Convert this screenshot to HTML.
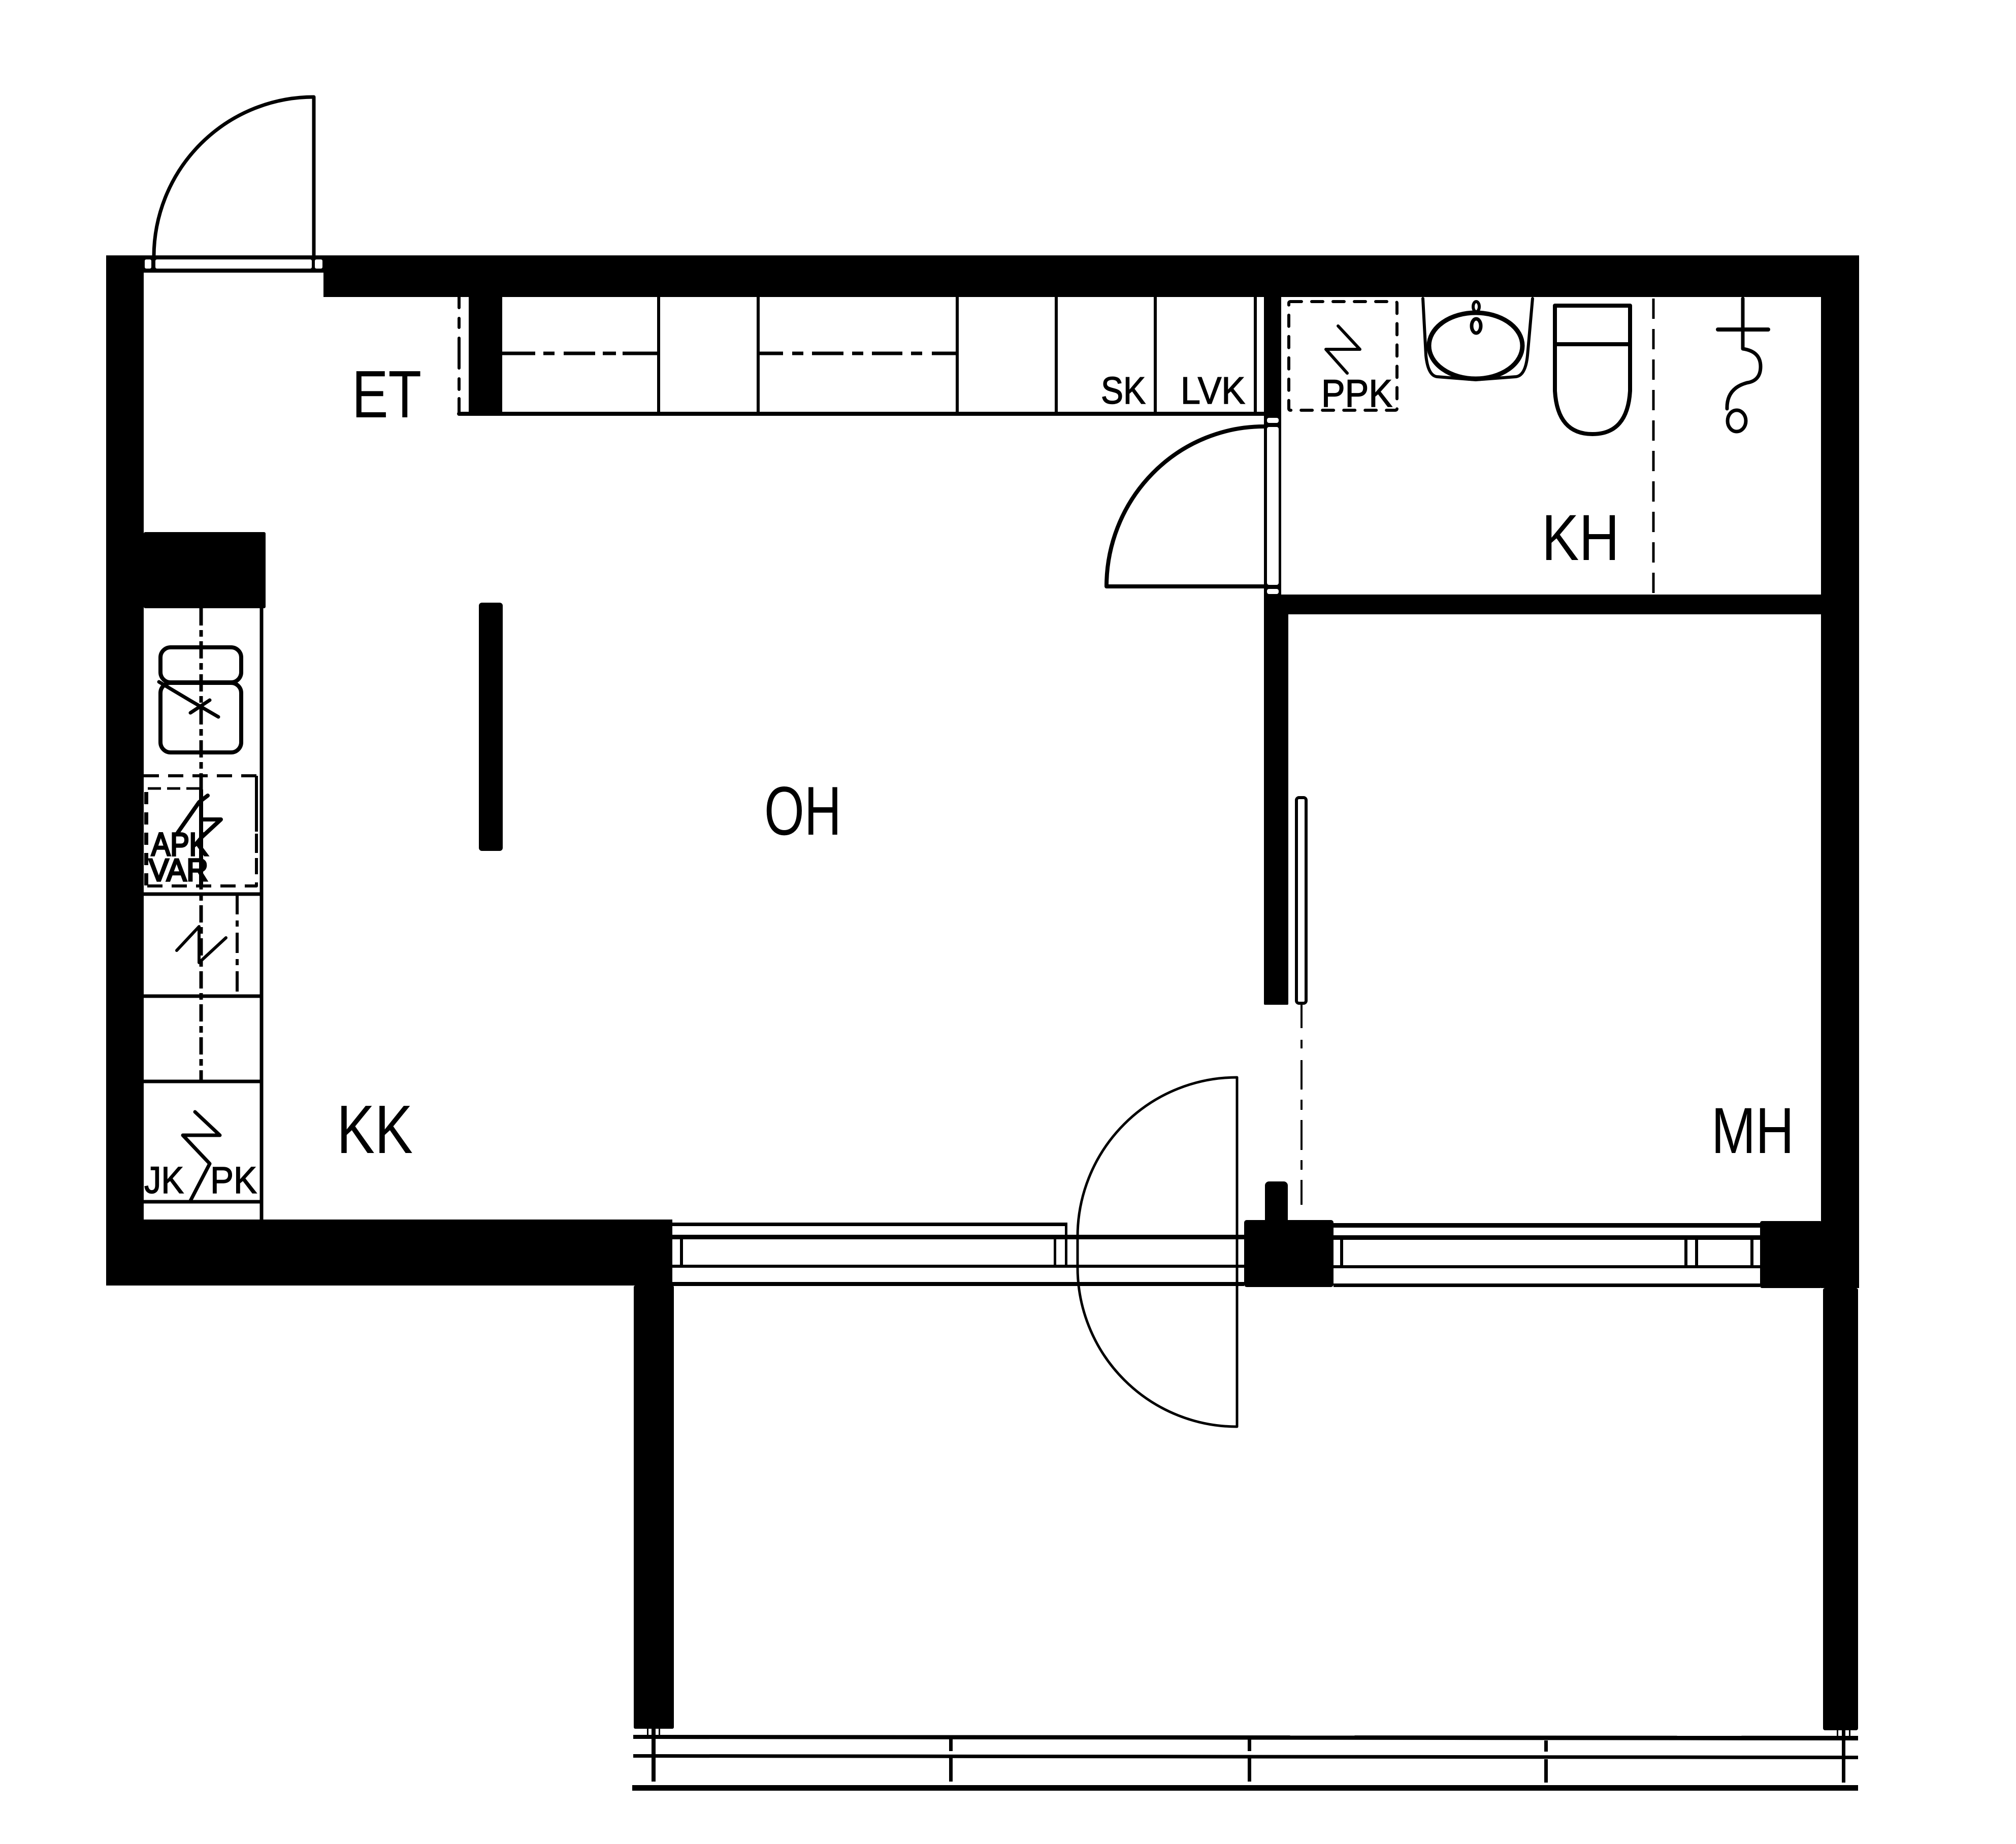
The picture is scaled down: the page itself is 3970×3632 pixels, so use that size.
<!DOCTYPE html>
<html><head><meta charset="utf-8"><title>Floor plan</title>
<style>html,body{margin:0;padding:0;background:#fff}svg{display:block}text{font-family:"Liberation Sans",sans-serif;fill:#000}</style>
</head><body>
<svg xmlns="http://www.w3.org/2000/svg" width="3970" height="3632" viewBox="0 0 3970 3632">
<rect width="3970" height="3632" fill="#fff"/>
<!-- solid walls -->
<g fill="#000">
<rect x="209" y="503" width="74" height="2029"/>
<rect x="283" y="1048" width="240" height="150" rx="3"/>
<rect x="637" y="503" width="3024" height="82"/>
<rect x="3586" y="503" width="75" height="2034"/>
<rect x="3590" y="2537" width="69" height="871" rx="4"/>
<rect x="209" y="2402" width="1115" height="130"/>
<rect x="1248" y="2532" width="79" height="873" rx="3"/>
<rect x="2489" y="1171" width="1097" height="39"/>
<rect x="2489" y="1171" width="48" height="808" rx="2"/>
<rect x="923" y="585" width="66" height="228"/>
<rect x="943" y="1187" width="47" height="489" rx="6"/>
<rect x="2491" y="2327" width="45" height="90" rx="8"/>
<rect x="2450" y="2403" width="176" height="132" rx="5"/>
<rect x="3466" y="2405" width="122" height="132" rx="4"/>
<rect x="2489" y="585" width="34" height="586"/>
<!-- entrance frame -->
<rect x="283" y="503" width="354" height="34"/>
</g>
<g fill="#fff">
<rect x="285" y="511" width="13" height="18" rx="3"/>
<rect x="306" y="511" width="308" height="18" rx="3"/>
<rect x="620" y="511" width="15" height="18" rx="3"/>
<rect x="2495" y="823" width="23" height="10" rx="4"/>
<rect x="2495" y="841" width="23" height="311" rx="4"/>
<rect x="2495" y="1160" width="23" height="10" rx="4"/>
</g>
<g fill="none" stroke="#000" stroke-linecap="round" stroke-linejoin="round">
<!-- entrance door -->
<path d="M303 505A315 315 0 0 1 618 191V505" stroke-width="7"/>
<!-- inner door to KH -->
<path d="M2489 840A310 315 0 0 0 2179 1155H2489" stroke-width="8"/>
<!-- cabinets -->
<path d="M904 815H2489" stroke-width="8"/>
<path d="M1297 585V815M1493 585V815M1885 585V815M2080 585V815M2275 585V815M2472 585V815" stroke-width="6" stroke-linecap="butt"/>
<path d="M989 696H1054M1070 696H1092M1110 696H1172M1187 696H1213M1226 696H1297" stroke-width="7" stroke-linecap="butt"/>
<path d="M1493 696H1542M1560 696H1582M1599 696H1661M1678 696H1700M1717 696H1777M1794 696H1816M1835 696H1885" stroke-width="7" stroke-linecap="butt"/>
<path d="M904 585V606M904 627V645M904 666V725M904 746V767M904 785V815" stroke-width="6"/>
<!-- PPK -->
<rect x="2538" y="594" width="213" height="214" rx="3" stroke-width="6" stroke-dasharray="22 20"/>
<path d="M2635 642L2678 688H2611L2653 735" stroke-width="6"/>
<!-- sink -->
<path d="M2802 588L2808 700Q2812 740 2830 742L2906 748L2985 742Q3004 740 3008 700L3018 588" stroke-width="6"/>
<ellipse cx="2906" cy="681" rx="92" ry="65" stroke-width="9"/>
<ellipse cx="2907" cy="604" rx="6" ry="10" stroke-width="6"/>
<ellipse cx="2907" cy="642" rx="9" ry="14" stroke-width="7"/>
<!-- toilet -->
<path d="M3062 602H3210V770Q3205 855 3136 855Q3067 855 3062 770Z" stroke-width="8"/>
<path d="M3062 678H3210" stroke-width="8"/>
<path d="M3256 588V1171" stroke-width="5" stroke-dasharray="40 20" stroke-linecap="butt"/>
<!-- shower -->
<path d="M3432 588V687Q3467 692 3467 722Q3467 750 3440 754Q3400 765 3401 805" stroke-width="7"/>
<path d="M3383 649H3482" stroke-width="8"/>
<ellipse cx="3420" cy="829" rx="18" ry="21" stroke-width="7"/>
<!-- kitchen -->
<path d="M515 1198V2402" stroke-width="7" stroke-linecap="butt"/>
<path d="M396 1198V2130" stroke-width="7" stroke-dasharray="34 9 13 9" stroke-linecap="butt"/>
<path d="M396 1555V1745" stroke-width="8" stroke-linecap="butt"/>
<rect x="316" y="1275" width="159" height="69" rx="20" stroke-width="8"/>
<rect x="316" y="1345" width="159" height="137" rx="20" stroke-width="8"/>
<path d="M313 1343L375 1380L430 1412M375 1404L413 1379" stroke-width="7"/>
<path d="M283 1528H505V1745H283" stroke-width="6" stroke-dasharray="30 18" stroke-linecap="butt"/>
<path d="M505 1528V1745" stroke-width="6" stroke-dasharray="26 16" stroke-linecap="butt"/>
<path d="M291 1553H393" stroke-width="5" stroke-dasharray="26 12" stroke-linecap="butt"/>
<path d="M288 1560V1745" stroke-width="8" stroke-dasharray="24 16" stroke-linecap="butt"/>
<path d="M409 1567L392 1580L350 1640M396 1614H435L396 1650" stroke-width="8"/>
<path d="M283 1761H515M283 1962H515M283 2130H515M283 2367H515" stroke-width="7" stroke-linecap="butt"/>
<path d="M467 1761V1962" stroke-width="6" stroke-dasharray="40 12 12 12" stroke-linecap="butt"/>
<path d="M348 1872L392 1825V1896L445 1847" stroke-width="6"/>
<path d="M384 2190L433 2236H360L413 2292L375 2365" stroke-width="7"/>
<!-- sliding door -->
<rect x="2553" y="1571" width="19" height="405" rx="5" stroke-width="6"/>
<path d="M2563 1978V2025M2563 2048V2065M2563 2088V2146M2563 2166V2186M2563 2206V2265M2563 2285V2304M2563 2324V2373" stroke-width="4" stroke-linecap="butt"/>
<!-- lower door -->
<path d="M2436 2122A314 314 0 0 0 2122 2436V2496A314 314 0 0 0 2436 2810V2122" stroke-width="5"/>
</g>
<!-- windows -->
<g fill="#000">
<rect x="1324" y="2408" width="778" height="7"/>
<rect x="1324" y="2432" width="1126" height="9"/>
<rect x="1324" y="2491" width="1126" height="6"/>
<rect x="1324" y="2525" width="1126" height="8"/>
<rect x="2097" y="2408" width="5" height="26"/>
<rect x="1339" y="2436" width="6" height="58"/>
<rect x="2075" y="2436" width="5" height="58"/>
<rect x="2097" y="2436" width="5" height="58"/>
<rect x="2626" y="2409" width="840" height="9"/>
<rect x="2626" y="2433" width="840" height="9"/>
<rect x="2626" y="2492" width="840" height="6"/>
<rect x="2626" y="2528" width="840" height="7"/>
<rect x="2639" y="2438" width="6" height="58"/>
<rect x="3317" y="2438" width="6" height="58"/>
<rect x="3338" y="2438" width="6" height="58"/>
<rect x="3447" y="2438" width="6" height="58"/>
<!-- balcony rail -->
<polygon points="1247,3417 3659,3419 3659,3428 1247,3425"/>
<polygon points="1247,3455 3659,3458 3659,3465 1247,3462"/>
<rect x="1245" y="3516" width="2414" height="11"/>
<rect x="1283" y="3405" width="8" height="104"/>
<rect x="1274" y="3405" width="3" height="12"/>
<rect x="1297" y="3405" width="3" height="12"/>
<rect x="3627" y="3408" width="7" height="103"/>
<rect x="3617" y="3408" width="3" height="12"/>
<rect x="3641" y="3408" width="3" height="12"/>
<rect x="1869" y="3425" width="7" height="24"/>
<rect x="1869" y="3462" width="7" height="47"/>
<rect x="2457" y="3425" width="7" height="24"/>
<rect x="2457" y="3462" width="7" height="47"/>
<rect x="3041" y="3428" width="7" height="22"/>
<rect x="3041" y="3465" width="7" height="46"/>
</g>
<!-- labels -->
<text x="693" y="822" font-size="132" textLength="137" lengthAdjust="spacingAndGlyphs">ET</text>
<text x="3036" y="1103" font-size="128" textLength="153" lengthAdjust="spacingAndGlyphs">KH</text>
<text x="1505" y="1644" font-size="136" textLength="152" lengthAdjust="spacingAndGlyphs">OH</text>
<text x="663" y="2271" font-size="135" textLength="150" lengthAdjust="spacingAndGlyphs">KK</text>
<text x="3370" y="2271" font-size="128" textLength="163" lengthAdjust="spacingAndGlyphs">MH</text>
<g stroke="#000" stroke-width="1.5">
<text x="2168" y="795" font-size="75" textLength="88" lengthAdjust="spacingAndGlyphs">SK</text>
<text x="2325" y="795" font-size="75" textLength="127" lengthAdjust="spacingAndGlyphs">LVK</text>
<text x="2602" y="801" font-size="76" textLength="140" lengthAdjust="spacingAndGlyphs">PPK</text>
<text x="284" y="2350" font-size="74" textLength="78" lengthAdjust="spacingAndGlyphs">JK</text>
<text x="414" y="2350" font-size="74" textLength="92" lengthAdjust="spacingAndGlyphs">PK</text>
</g>
<g stroke="#000" stroke-width="3.5">
<text x="298" y="1685" font-size="64" textLength="112" lengthAdjust="spacingAndGlyphs">APK</text>
<text x="293" y="1735" font-size="62" textLength="117" lengthAdjust="spacingAndGlyphs">VAR</text>
</g>
</svg>
</body></html>
